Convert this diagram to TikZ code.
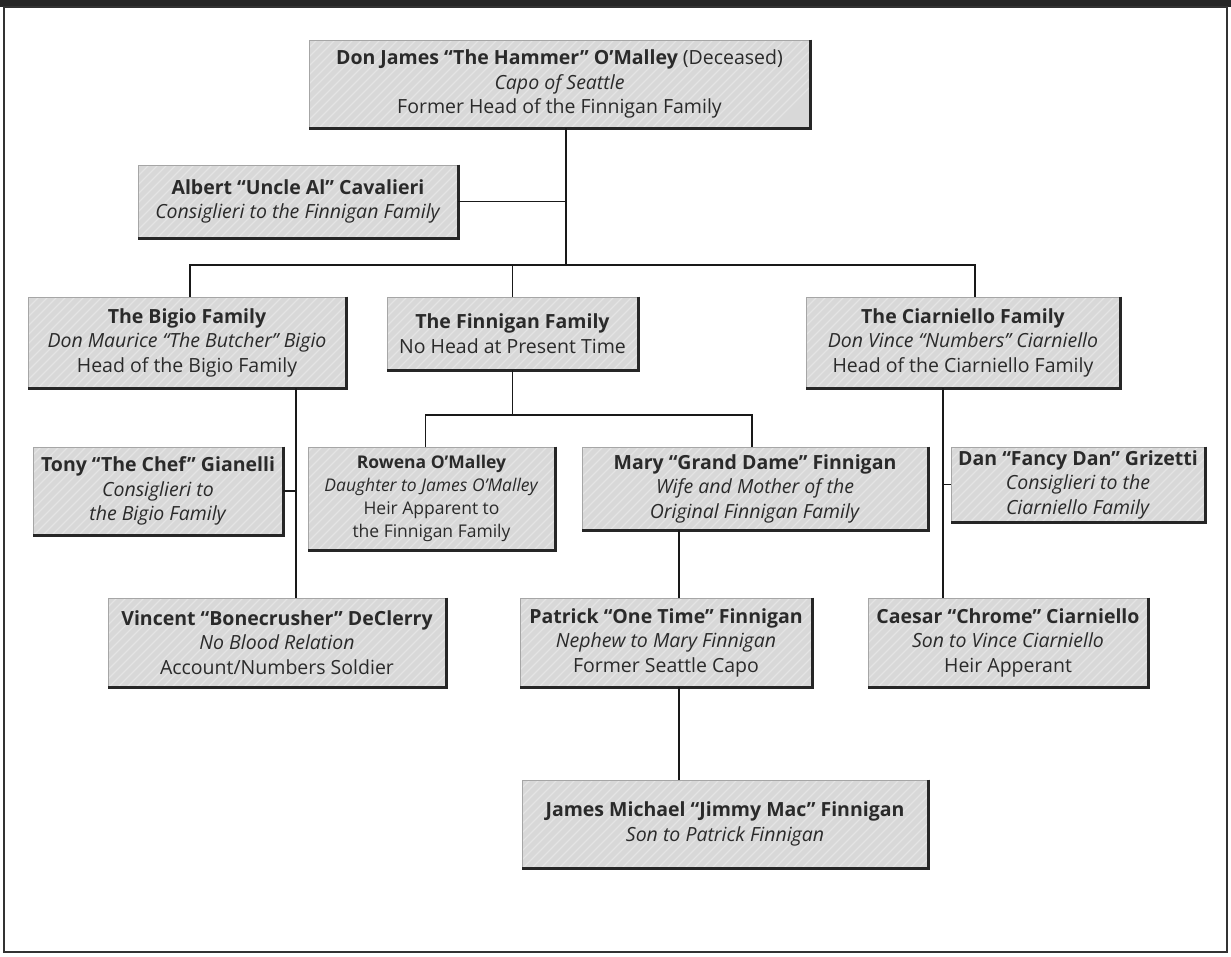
\documentclass[tikz,border=0pt]{standalone}
\usepackage{fontspec}
\setmainfont{Open Sans}
\definecolor{boxgray}{HTML}{D8D8D8}
\definecolor{boxlight}{HTML}{E4E4E4}
\definecolor{ink}{HTML}{2A2A2A}
\begin{document}
\begin{tikzpicture}[x=1pt,y=-1pt,
  box/.style={draw=gray!70, line width=0.8pt, fill=boxgray, align=center, inner sep=0pt,
    font=\fontsize{19.5}{24.5}\selectfont, text=ink,
    path picture={\foreach \k in {0,9,...,720}
      \draw[boxlight, line width=1.2pt] ([xshift=\k pt-260pt]path picture bounding box.south west) -- ++(260pt,260pt);}},
  shadowline/.style={line width=2.6pt, black!85},
  conn/.style={line width=1.8pt, black!90}]
\useasboundingbox (0,0) rectangle (1231,956);
% page frame
\fill[white] (0,0) rectangle (1231,956);
\fill[black!85] (0,0) rectangle (1231,7);
\draw[line width=2pt, black!80] (4,7) rectangle (1227,952);

% nodes
\node[box, minimum width=501pt, minimum height=88pt] (top) at (559.5,84)
  {\textbf{Don James “The Hammer” O’Malley} (Deceased)\\\textit{Capo of Seattle}\\Former Head of the Finnigan Family};
\node[box, minimum width=320pt, minimum height=73pt] (albert) at (298,201.5)
  {\textbf{Albert “Uncle Al” Cavalieri}\\\textit{Consiglieri to the Finnigan Family}};
\node[box, minimum width=318pt, minimum height=91pt] (bigio) at (187,342.5)
  {\textbf{The Bigio Family}\\\textit{Don Maurice “The Butcher” Bigio}\\Head of the Bigio Family};
\node[box, minimum width=251pt, minimum height=73pt] (finn) at (512.5,333.5)
  {\textbf{The Finnigan Family}\\No Head at Present Time};
\node[box, minimum width=314pt, minimum height=91pt] (ciar) at (963,342.5)
  {\textbf{The Ciarniello Family}\\\textit{Don Vince “Numbers” Ciarniello}\\Head of the Ciarniello Family};
\node[box, minimum width=250pt, minimum height=88pt] (tony) at (158,491)
  {\textbf{Tony “The Chef” Gianelli}\\\textit{Consiglieri to}\\\textit{the Bigio Family}};
\node[box, minimum width=247pt, minimum height=103pt, font=\fontsize{17.5}{23}\selectfont] (rowena) at (431.5,498.5)
  {\textbf{Rowena O’Malley}\\\textit{Daughter to James O’Malley}\\Heir Apparent to\\the Finnigan Family};
\node[box, minimum width=346pt, minimum height=83pt] (mary) at (755,488.5)
  {\textbf{Mary “Grand Dame” Finnigan}\\\textit{Wife and Mother of the}\\\textit{Original Finnigan Family}};
\node[box, minimum width=254pt, minimum height=75pt] (dan) at (1078,484.5)
  {\textbf{Dan “Fancy Dan” Grizetti}\\\textit{Consiglieri to the}\\\textit{Ciarniello Family}};
\node[box, minimum width=338pt, minimum height=89pt] (vincent) at (277,642.5)
  {\textbf{Vincent “Bonecrusher” DeClerry}\\\textit{No Blood Relation}\\Account/Numbers Soldier};
\node[box, minimum width=292pt, minimum height=89pt] (patrick) at (666,642.5)
  {\textbf{Patrick “One Time” Finnigan}\\\textit{Nephew to Mary Finnigan}\\Former Seattle Capo};
\node[box, minimum width=280pt, minimum height=89pt] (caesar) at (1008,642.5)
  {\textbf{Caesar “Chrome” Ciarniello}\\\textit{Son to Vince Ciarniello}\\Heir Apperant};
\node[box, minimum width=406pt, minimum height=88pt] (jimmy) at (725,824)
  {\textbf{James Michael “Jimmy Mac” Finnigan}\\\textit{Son to Patrick Finnigan}};

\foreach \n in {top,albert,bigio,finn,ciar,tony,rowena,mary,dan,vincent,patrick,caesar,jimmy}
  \draw[shadowline] (\n.north east) -- (\n.south east) -- (\n.south west);

% connectors
\coordinate (bus) at (567,265);
\coordinate (fbus) at (0,415);
\coordinate (bl) at (296,0);
\coordinate (cl) at (943,0);
\coordinate (pl) at (679,0);
\coordinate (tl) at (566,0);
\draw[conn] (top.south -| tl) -- (bus -| tl);
\draw[conn] (albert.east) -- (albert.east -| tl);
\draw[conn] ([xshift=3pt]bigio.north) -- ([xshift=3pt]bigio.north |- bus) -- ([xshift=12pt]ciar.north |- bus) -- ([xshift=12pt]ciar.north);
\draw[conn] (finn.north) -- (finn.north |- bus);
\draw[conn] (finn.south) -- (finn.south |- fbus);
\draw[conn] ([xshift=-6pt]rowena.north) -- ([xshift=-6pt]rowena.north |- fbus) -- ([xshift=-3pt]mary.north |- fbus) -- ([xshift=-3pt]mary.north);
\draw[conn] (bigio.south -| bl) -- (vincent.north -| bl);
\draw[conn] (tony.east) -- (tony.east -| bl);
\draw[conn] (ciar.south -| cl) -- (caesar.north -| cl);
\draw[conn] (dan.west) -- (dan.west -| cl);
\draw[conn] (mary.south -| pl) -- (patrick.north -| pl);
\draw[conn] (patrick.south -| pl) -- (jimmy.north -| pl);
\end{tikzpicture}
\end{document}
